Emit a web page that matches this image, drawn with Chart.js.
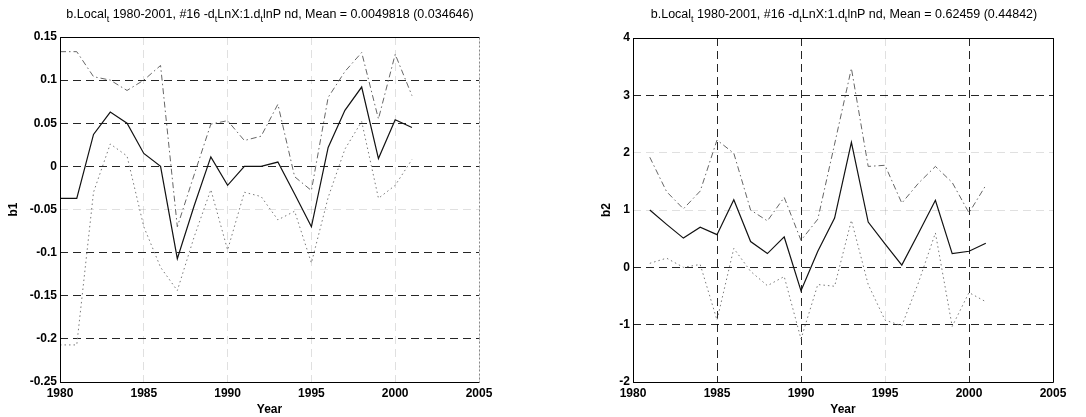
<!DOCTYPE html>
<html lang="en">
<head>
<meta charset="UTF-8">
<title>b.Local 1980-2001</title>
<script src="https://cdn.jsdelivr.net/npm/chart.js"></script>
<style>
  body { margin: 0; background: #fff; font-family: Arial, "Liberation Sans", sans-serif; }
  #wrap { position: relative; width: 1086px; height: 417px; overflow: hidden; background: #fff; }
  .panel { position: absolute; top: 0; height: 417px; }
  #p1 { left: 0; width: 520px; }
  #p2 { left: 543px; width: 543px; }
  .ttl { position: absolute; top: 7px; font-size: 12.5px; line-height: 14px; white-space: nowrap;
         transform: translateX(-50%); color: #000; }
  .ttl sub { font-size: 9px; line-height: 0; vertical-align: -4px; }
</style>
</head>
<body>
<div id="wrap">
  <div class="panel" id="p1"><canvas id="c1"></canvas></div>
  <div class="panel" id="p2"><canvas id="c2"></canvas></div>
  <div class="ttl" style="left:270px">b.Local<sub>t</sub> 1980-2001, #16 -d<sub>t</sub>LnX:1.d<sub>t</sub>lnP nd, Mean = 0.0049818 (0.034646)</div>
  <div class="ttl" style="left:844px">b.Local<sub>t</sub> 1980-2001, #16 -d<sub>t</sub>LnX:1.d<sub>t</sub>lnP nd, Mean = 0.62459 (0.44842)</div>
</div>

<script>
// b1: local estimate with upper / lower bands
const years1 = [1980, 1981, 1982, 1983, 1984, 1985, 1986, 1987, 1988, 1989, 1990,
                1991, 1992, 1993, 1994, 1995, 1996, 1997, 1998, 1999, 2000, 2001];
const b1Est   = [-0.037, -0.037, 0.037, 0.063, 0.05, 0.015, 0.0, -0.107, -0.046, 0.011, -0.022,
                 0.0, 0.0, 0.005, -0.032, -0.07, 0.022, 0.065, 0.092, 0.009, 0.054, 0.045];
const b1Upper = [0.133, 0.133, 0.104, 0.1, 0.088, 0.1, 0.117, -0.07, -0.01, 0.049, 0.053,
                 0.03, 0.035, 0.072, -0.012, -0.028, 0.08, 0.11, 0.132, 0.055, 0.13, 0.082];
const b1Lower = [-0.207, -0.207, -0.03, 0.026, 0.012, -0.07, -0.117, -0.144, -0.082, -0.027, -0.097,
                 -0.03, -0.035, -0.062, -0.052, -0.112, -0.036, 0.02, 0.052, -0.037, -0.022, 0.008];
const b1Ticks = [-0.25, -0.2, -0.15, -0.1, -0.05, 0, 0.05, 0.1, 0.15];

// b2: local estimate with upper / lower bands
const years2 = [1981, 1982, 1983, 1984, 1985, 1986, 1987, 1988, 1989, 1990,
                1991, 1992, 1993, 1994, 1995, 1996, 1997, 1998, 1999, 2000, 2001];
const b2Est   = [1.0, 0.75, 0.51, 0.7, 0.57, 1.18, 0.45, 0.24, 0.53, -0.41,
                 0.28, 0.86, 2.18, 0.79, 0.41, 0.04, 0.6, 1.17, 0.24, 0.28, 0.42];
const b2Upper = [1.92, 1.32, 1.02, 1.33, 2.22, 1.99, 1.0, 0.81, 1.22, 0.47,
                 0.84, 2.15, 3.47, 1.76, 1.78, 1.12, 1.47, 1.76, 1.48, 0.95, 1.43];
const b2Lower = [0.07, 0.16, 0.0, 0.05, -0.92, 0.33, -0.07, -0.32, -0.16, -1.25,
                 -0.3, -0.33, 0.82, -0.3, -0.92, -1.02, -0.26, 0.6, -1.03, -0.44, -0.6];
const b2Ticks = [-2, -1, 0, 1, 2, 3, 4];

const yearTicks = [1980, 1985, 1990, 1995, 2000, 2005];

Chart.defaults.font.family = 'Arial, "Liberation Sans", sans-serif';
Chart.defaults.font.size = 12;
Chart.defaults.color = '#000';

const lineStyles = {
    est:   { borderColor: '#111', borderWidth: 1.2, borderDash: [] },
    upper: { borderColor: '#666', borderWidth: 1, borderDash: [6, 3, 1.5, 3] },
    lower: { borderColor: '#777', borderWidth: 1, borderDash: [1.5, 3] }
};

function series(xs, ys, kind) {
    return Object.assign({
        data: xs.map((x, i) => ({ x: x, y: ys[i] })),
        pointRadius: 0,
        tension: 0,
        fill: false
    }, lineStyles[kind]);
}

// axes box, drawn over the grid; the right edge can get its own style
const boxPlugin = {
    id: 'box',
    afterDatasetsDraw(chart, args, opts) {
        const ctx = chart.ctx;
        const a = chart.chartArea;
        const l = Math.round(a.left) + 0.5, r = Math.round(a.right) + 0.5;
        const t = Math.round(a.top) + 0.5, b = Math.round(a.bottom) + 0.5;
        ctx.save();
        ctx.lineWidth = 1;
        ctx.strokeStyle = '#000';
        ctx.beginPath();
        ctx.moveTo(r, t); ctx.lineTo(l, t); ctx.lineTo(l, b); ctx.lineTo(r, b);
        ctx.stroke();
        ctx.setLineDash(opts.rightDash || []);
        ctx.strokeStyle = opts.rightColor || '#000';
        ctx.beginPath();
        ctx.moveTo(r, t); ctx.lineTo(r, b);
        ctx.stroke();
        ctx.restore();
    }
};

function makeChart(id, cfg) {
    const tickVals = vals => scale => { scale.ticks = vals.map(v => ({ value: v })); };
    return new Chart(document.getElementById(id), {
        type: 'line',
        data: {
            datasets: [
                series(cfg.years, cfg.est, 'est'),
                series(cfg.years, cfg.upper, 'upper'),
                series(cfg.years, cfg.lower, 'lower')
            ]
        },
        options: {
            responsive: true,
            maintainAspectRatio: false,
            animation: false,
            layout: { padding: cfg.padding },
            plugins: {
                legend: { display: false },
                tooltip: { enabled: false },
                box: cfg.box || {}
            },
            scales: {
                x: {
                    type: 'linear',
                    min: 1980,
                    max: 2005,
                    afterBuildTicks: tickVals(yearTicks),
                    afterFit: s => { s.height = 35; },
                    grid: {
                        drawTicks: false,
                        lineWidth: 1,
                        color: c => cfg.xGrid(c.tick ? c.tick.value : null)
                    },
                    border: { display: false, dash: [8, 5] },
                    ticks: {
                        padding: 4,
                        maxRotation: 0,
                        autoSkip: false,
                        font: { weight: 'bold' },
                        callback: v => String(v)
                    },
                    title: {
                        display: true,
                        text: 'Year',
                        font: { weight: 'bold', size: 12 },
                        padding: { top: 0, bottom: 0 }
                    }
                },
                y: {
                    type: 'linear',
                    min: cfg.yMin,
                    max: cfg.yMax,
                    afterBuildTicks: tickVals(cfg.yTicks),
                    afterFit: s => { s.width = cfg.yWidth; },
                    grid: {
                        drawTicks: false,
                        lineWidth: 1,
                        color: c => cfg.yGrid(c.tick ? c.tick.value : null)
                    },
                    border: { display: false, dash: [8, 5] },
                    ticks: {
                        padding: 3,
                        autoSkip: false,
                        font: { weight: 'bold' },
                        callback: v => String(+v.toFixed(2))
                    },
                    title: {
                        display: true,
                        text: cfg.yTitle,
                        font: { weight: 'bold', size: 12 },
                        padding: { top: 4, bottom: 0 }
                    }
                }
            }
        },
        plugins: [boxPlugin]
    });
}

const darkGrid = 'rgba(0,0,0,0.85)';
const faintGrid = 'rgba(0,0,0,0.12)';

makeChart('c1', {
    years: years1, est: b1Est, upper: b1Upper, lower: b1Lower,
    yMin: -0.25, yMax: 0.15, yTicks: b1Ticks, yTitle: 'b1', yWidth: 58,
    padding: { left: 2, right: 41, top: 37, bottom: 0 },
    xGrid: () => faintGrid,
    yGrid: v => (Math.abs(v + 0.05) < 1e-9 ? faintGrid : darkGrid),
    box: { rightDash: [2, 2], rightColor: '#888' }
});

makeChart('c2', {
    years: years2, est: b2Est, upper: b2Upper, lower: b2Lower,
    yMin: -2, yMax: 4, yTicks: b2Ticks, yTitle: 'b2', yWidth: 38,
    padding: { left: 52, right: 33, top: 38, bottom: 0 },
    xGrid: v => (v === 1995 ? faintGrid : darkGrid),
    yGrid: v => (v === 1 || v === 2 ? faintGrid : darkGrid)
});
</script>
</body>
</html>
